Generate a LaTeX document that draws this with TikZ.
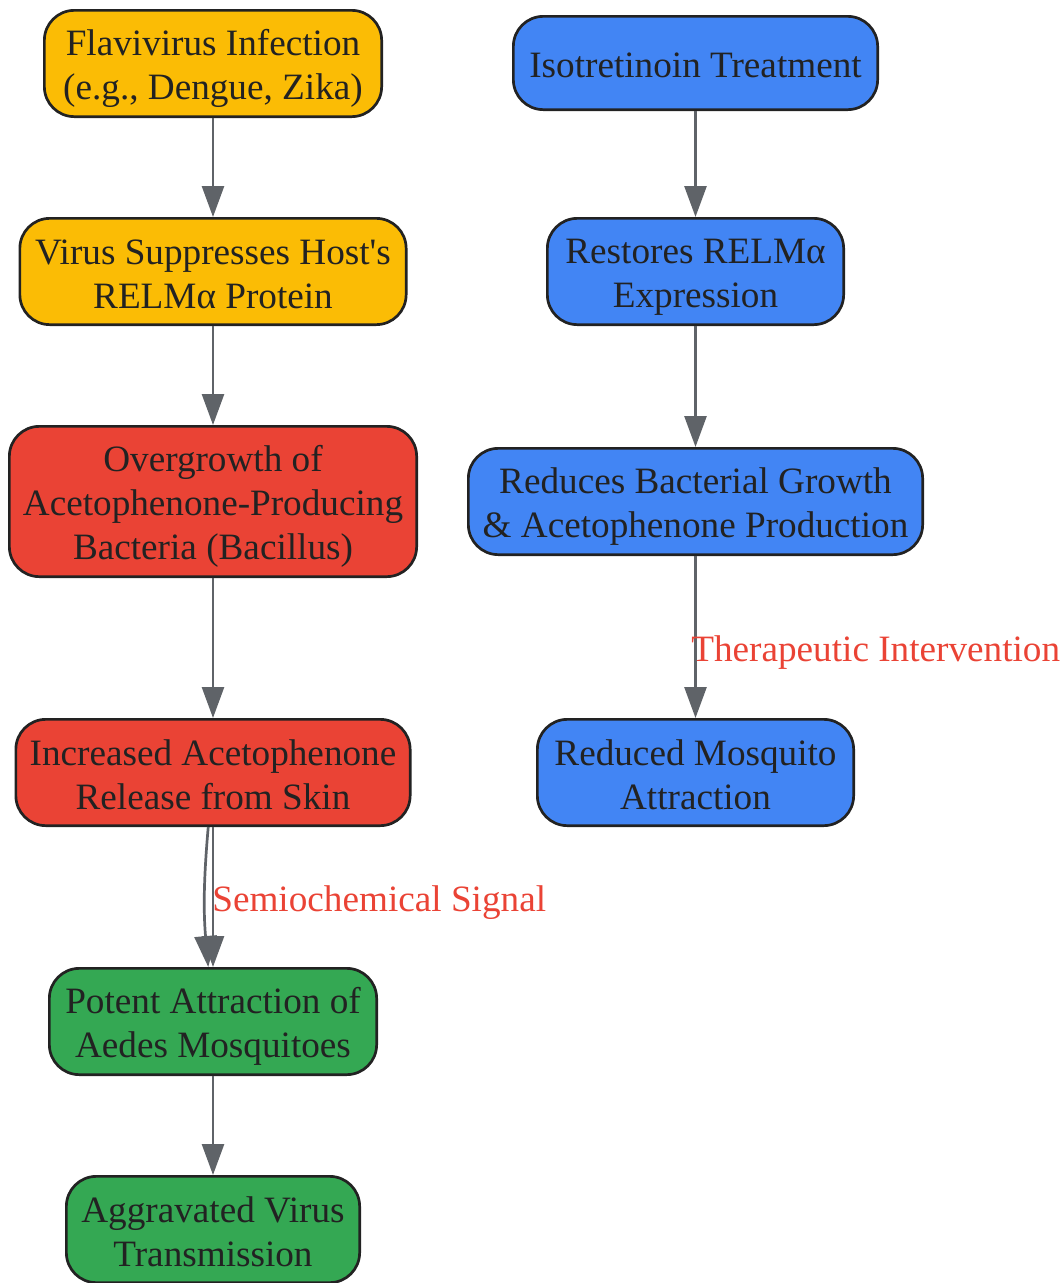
\documentclass[tikz,border=0pt]{standalone}
\usepackage{fontspec}
\setmainfont{Liberation Serif}[Ligatures=TeXOff]
\usepackage{tikz}
\usetikzlibrary{arrows.meta,positioning}
\definecolor{gyellow}{HTML}{FBBC05}
\definecolor{gred}{HTML}{EA4335}
\definecolor{gblue}{HTML}{4285F4}
\definecolor{ggreen}{HTML}{34A853}
\definecolor{inkgray}{HTML}{5F6368}
\definecolor{boxline}{HTML}{222222}
\tikzset{
    %Define standard arrow tip
    >={Triangle[width=22pt,length=31pt]},
    %Define style for boxes
    stepbox/.style={
           rectangle,
           rounded corners=30pt,
           draw=boxline, line width=2.7pt,
           inner xsep=0pt,
           inner ysep=8pt,
           minimum height=106.3pt,
           align=flush center,
           text=boxline,
           font=\fontsize{37.2pt}{44pt}\selectfont,
           execute at begin node={\rule{0pt}{36.5pt}},
           execute at end node={\rule[-7.5pt]{0pt}{0pt}}},
    virus/.style={stepbox, fill=gyellow},
    microbe/.style={stepbox, fill=gred},
    mosquito/.style={stepbox, fill=ggreen},
    therapy/.style={stepbox, fill=gblue},
    % Define arrow style
    pil/.style={
           ->,
           color=inkgray,
           line width=2.7pt},
    edgelabel/.style={
           anchor=base west,
           inner sep=0pt,
           text=gred,
           font=\fontsize{37.2pt}{44pt}\selectfont}
}

\begin{document}
\begin{tikzpicture}[x=1pt,y=1pt]
\useasboundingbox (0,0) rectangle (1062,-1283);
 %nodes
\node[virus, text width=337.3pt] (flav) at (213,-63.5) {Flavivirus Infection\\(e.g., Dengue, Zika)};
\node[virus, text width=386.3pt, below=99pt of flav] (suppress) {Virus Suppresses Host's\\RELMα Protein};
\node[microbe, text width=407.3pt, minimum height=150.3pt, below=99pt of suppress] (bacteria) {Overgrowth of\\Acetophenone-Producing\\Bacteria (Bacillus)};
\node[microbe, text width=394.3pt, below=140pt of bacteria] (release) {Increased Acetophenone\\Release from Skin};
\node[mosquito, text width=327.3pt, below=140pt of release] (attract) {Potent Attraction of\\Aedes Mosquitoes};
\node[mosquito, text width=293.3pt, below=99pt of attract] (spread) {Aggravated Virus\\Transmission};
\node[therapy, text width=364.3pt, minimum height=93.3pt] (iso) at (695.5,-63) {Isotretinoin Treatment};
\node[therapy, text width=296.3pt, below=106pt of iso] (restore) {Restores RELMα\\Expression};
\node[therapy, text width=454.3pt, below=121pt of restore] (reduce) {Reduces Bacterial Growth\\\& Acetophenone Production};
\node[therapy, text width=316.3pt, below=162pt of reduce] (fewer) {Reduced Mosquito\\Attraction};
 %edges
 \path[pil]
   (flav) edge (suppress)
   (suppress) edge (bacteria)
   (bacteria) edge (release)
   (release) edge node[edgelabel, pos=0.6, xshift=-2pt]{Semiochemical Signal} (attract)
   (release) edge[bend right=5] (attract)
   (attract) edge (spread)
   (iso) edge (restore)
   (restore) edge (reduce)
   (reduce) edge node[edgelabel, pos=0.65, xshift=-5.5pt]{Therapeutic Intervention} (fewer);
\end{tikzpicture}
\end{document}
